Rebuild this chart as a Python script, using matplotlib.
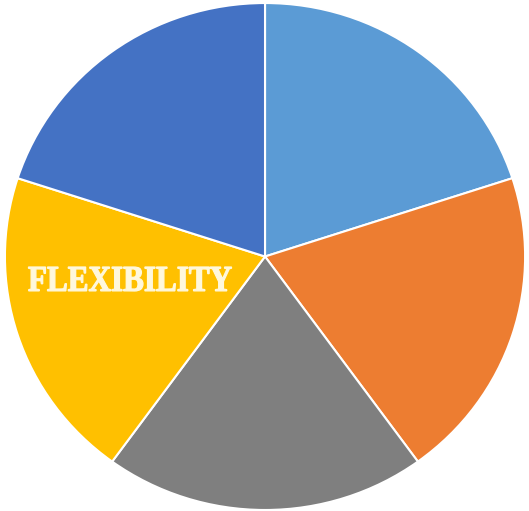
import matplotlib.pyplot as plt
from matplotlib.textpath import TextPath
from matplotlib.patches import PathPatch
from matplotlib.font_manager import FontProperties
from matplotlib.transforms import Affine2D, IdentityTransform

labels = ["Light blue", "Orange", "Gray", "Yellow", "Dark blue"]
values = [1, 1, 1, 1, 1]
colors = ["#5B9BD5", "#ED7D31", "#7F7F7F", "#FFC000", "#4472C4"]
caption = "FLEXIBILITY"

fig = plt.figure(figsize=(5.29, 5.11), dpi=100)
ax = fig.add_axes([0, 0, 1, 1])
ax.pie(values, colors=colors, startangle=90, counterclock=False,
       wedgeprops=dict(edgecolor="white", linewidth=1.5))
ax.set_aspect("auto")
ax.set_xlim(-1.019, 1.015)
ax.set_ylim(-1.004, 1.012)
ax.axis("off")

# condensed heavy caption: build a text path and squeeze it to the box
tp = TextPath((0, 0), caption, size=30,
              prop=FontProperties(family="Liberation Serif", weight="bold"))
ext = tp.get_extents()
w_px, h_px = 203, 24
cx, cy = 130, 511 - 279
tr = (Affine2D().translate(-(ext.x0 + ext.x1) / 2, -(ext.y0 + ext.y1) / 2)
      .scale(w_px / ext.width, h_px / ext.height)
      .translate(cx, cy))
fig.patches.append(PathPatch(tr.transform_path(tp), facecolor="#FFF8DC",
                             edgecolor="#FFF8DC", linewidth=0.9,
                             transform=IdentityTransform(), figure=fig))

fig.savefig("out.png", dpi=100, facecolor="white")
